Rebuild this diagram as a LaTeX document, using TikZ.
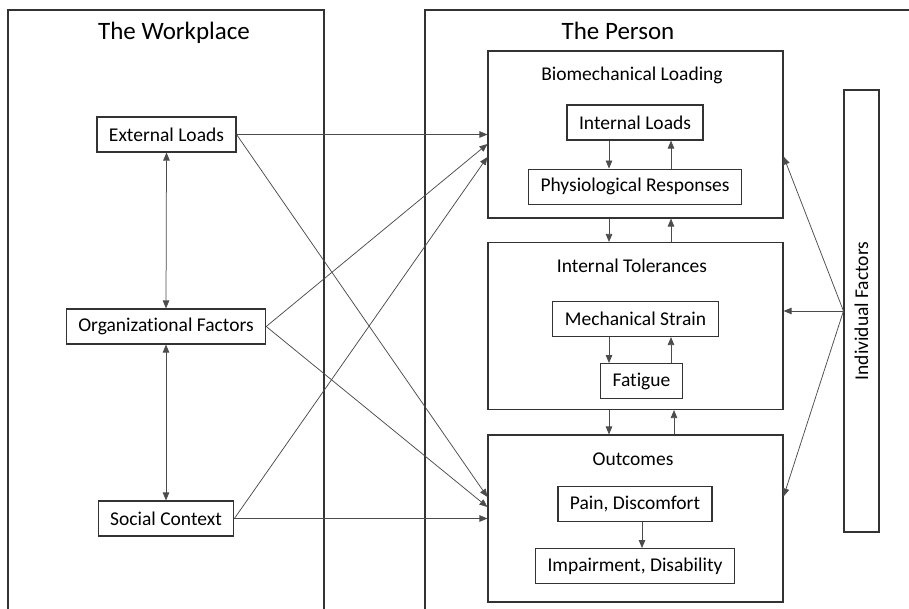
\documentclass[tikz,border=0pt]{standalone}
\usepackage{fontspec}
\setmainfont{Carlito}[Ligatures={NoCommon}]
\usetikzlibrary{arrows.meta, positioning}
\tikzstyle{Factor} = [rectangle, draw=black!80, line width=1.1pt, inner xsep=12pt,
                      minimum height=35pt, font=\fontsize{19.5}{22}\selectfont]
\tikzstyle{Stage} = [rectangle, draw=black!80, line width=1.1pt,
                     minimum width=295pt, minimum height=167pt]
\tikzstyle{Heading} = [anchor=base, font=\fontsize{25}{28}\selectfont]
\tikzstyle{Title} = [anchor=base, font=\fontsize{19.5}{22}\selectfont]
\tikzstyle{frame} = [draw=black!80, line width=1.1pt]
\tikzstyle{link} = [draw=black!70, line width=0.75pt]

\begin{document}
\begin{tikzpicture}
    [x=1pt, y=-1pt, node distance=28pt, >={Triangle[length=8pt,width=6.5pt]}]
    \useasboundingbox (0,0) rectangle (909,609);

    %% Frames
    \draw[frame] (8,609) -- (8,10) -- (324,10) -- (324,609);
    \draw[frame] (425,609) -- (425,10) -- (909,10);
    \node[Heading] (workplace) at (174,39.5) {The Workplace};
    \node[Heading] (person) at (618,39.5) {The Person};

    %% Workplace
    \node[Factor] (ext) at (166.5,134.5) {External Loads};
    \node[Factor] (org) at (166,326.5) {Organizational Factors};
    \node[Factor] (soc) at (166,518.5) {Social Context};

    %% Person
    \node[Stage] (bio) at (635.5,134.5) {};
    \node[Stage] (tol) at (635.5,326) {};
    \node[Stage] (out) at (635.5,518.5) {};
    \node[Title] (biotitle) at (632,81) {Biomechanical Loading};
    \node[Title] (toltitle) at (632,272.5) {Internal Tolerances};
    \node[Title] (outtitle) at (633,465) {Outcomes};

    \node[Factor] (il) at (635,122.5) {Internal Loads};
    \node[Factor, below= of il] (pr) {Physiological Responses};
    \node[Factor] (ms) at (635.5,319) {Mechanical Strain};
    \node[Factor, below=26pt of ms, xshift=6pt] (fat) {Fatigue};
    \node[Factor] (pain) at (635,504) {Pain, Discomfort};
    \node[Factor, below=26pt of pain] (imp) {Impairment, Disability};

    %% Individual
    \node[Factor, minimum width=35pt, minimum height=442pt, inner xsep=0pt] (ind) at (861.5,311)
        {\rotatebox{90}{Individual Factors}};

    %% Draw
    \draw[<->, link] (ext.south) -- (org.north);
    \draw[<->, link] (org.south) -- (soc.north);

    \draw[->, link] (ext.east) -- (bio.west);
    \draw[->, link] (ext.east) -- ([yshift=21.5pt]out.west);
    \draw[->, link] (org.east) -- ([yshift=-9.5pt]bio.west);
    \draw[->, link] (org.east) -- ([yshift=11.5pt]out.west);
    \draw[->, link] (soc.east) -- ([yshift=-22.5pt]bio.west);
    \draw[->, link] (soc.east) -- (out.west);

    \draw[->, link] ([xshift=-26pt]il.south) -- ([xshift=-26pt]pr.north);
    \draw[<-, link] ([xshift=36pt]il.south) -- ([xshift=36pt]pr.north);
    \draw[->, link] ([xshift=-26.5pt]bio.south) -- ([xshift=-26.5pt]tol.north);
    \draw[<-, link] ([xshift=35.5pt]bio.south) -- ([xshift=35.5pt]tol.north);
    \draw[->, link] ([xshift=-26.5pt]ms.south) -- ([xshift=-32.5pt]fat.north);
    \draw[<-, link] ([xshift=35.5pt]ms.south) -- ([xshift=29.5pt]fat.north);
    \draw[->, link] ([xshift=-26.5pt]tol.south) -- ([xshift=-26.5pt]out.north);
    \draw[<-, link] ([xshift=38.5pt]tol.south) -- ([xshift=38.5pt]out.north);
    \draw[->, link] ([xshift=7pt]pain.south) -- ([xshift=7pt]imp.north);

    \draw[->, link] (ind.west) -- ([yshift=-22pt]bio.east);
    \draw[->, link] (ind.west) -- (ind.west -| tol.east);
    \draw[->, link] (ind.west) -- ([yshift=22pt]out.east);

\end{tikzpicture}
\end{document}
